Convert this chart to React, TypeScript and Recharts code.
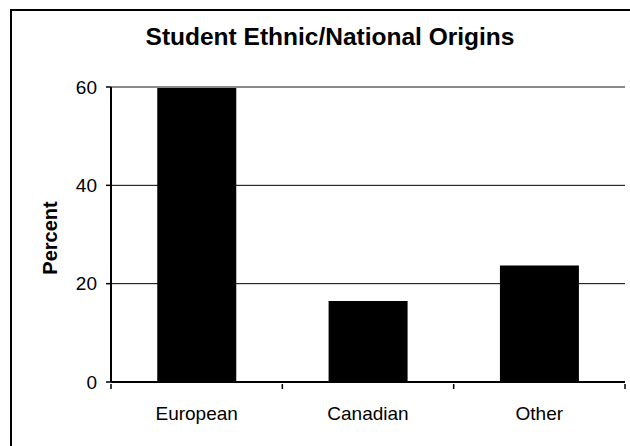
import { Bar, BarChart, CartesianGrid, ReferenceLine, XAxis, YAxis } from "recharts";

const origins = ["European", "Canadian", "Other"];
const percents = [60, 16.5, 23.7];
const percentTicks = [0, 20, 40, 60];

const rows = origins.map((origin, i) => ({ origin, percent: percents[i] }));

const FONT = '"Liberation Sans", Arial, sans-serif';

// category label centred in its band, with tick marks on the band edges
function OriginTick(props: any) {
  const { x, y, payload, index, visibleTicksCount, width } = props;
  const half = payload?.offset || width / visibleTicksCount / 2;
  const last = index === visibleTicksCount - 1;
  return (
    <g>
      <line x1={x - half} x2={x - half} y1={y} y2={y + 5} stroke="#000" strokeWidth={1.5} />
      {last && <line x1={x + half} x2={x + half} y1={y} y2={y + 5} stroke="#000" strokeWidth={1.5} />}
      <text x={x} y={y + 36} textAnchor="middle" fontSize={19} fontFamily={FONT} fill="#000">
        {payload.value}
      </text>
    </g>
  );
}

export default function App() {
  return (
    <div
      style={{
        position: "fixed",
        left: 0,
        top: 0,
        width: 630,
        height: 446,
        overflow: "hidden",
        background: "#fff",
      }}
    >
      <div
        style={{
          position: "absolute",
          left: 10,
          top: 9,
          width: 700,
          height: 500,
          borderLeft: "2px solid #000",
          borderTop: "2px solid #000",
        }}
      />
      <BarChart
        width={630}
        height={446}
        data={rows}
        margin={{ top: 87, right: 5, bottom: 0, left: 0 }}
        barCategoryGap="27%"
      >
        <CartesianGrid vertical={false} stroke="#000" strokeWidth={1} />
        <XAxis
          dataKey="origin"
          interval={0}
          height={64}
          tickSize={0}
          tickLine={false}
          axisLine={{ stroke: "#000", strokeWidth: 2 }}
          tick={<OriginTick />}
        />
        <YAxis
          domain={[0, 60]}
          ticks={percentTicks}
          width={111}
          tickSize={5}
          tickMargin={9}
          tick={{ fill: "#000", fontSize: 19, fontFamily: FONT }}
          tickLine={{ stroke: "#000", strokeWidth: 1.5 }}
          axisLine={{ stroke: "#000", strokeWidth: 2 }}
        />
        <YAxis
          yAxisId="frame"
          orientation="right"
          domain={[0, 60]}
          width={0}
          tick={false}
          tickLine={false}
          axisLine={{ stroke: "#888", strokeWidth: 2 }}
        />
        <Bar dataKey="percent" fill="#000" isAnimationActive={false} />
        <ReferenceLine y={60} stroke="#888" strokeWidth={2} />
      </BarChart>
      <svg
        width={630}
        height={446}
        style={{ position: "absolute", left: 0, top: 0, pointerEvents: "none" }}
      >
        <text x={330} y={45} textAnchor="middle" fontSize={24.5} fontWeight="bold" fontFamily={FONT} fill="#000">
          Student Ethnic/National Origins
        </text>
        <text
          transform="translate(57 238) rotate(-90)"
          textAnchor="middle"
          fontSize={20}
          fontWeight="bold"
          fontFamily={FONT}
          fill="#000"
        >
          Percent
        </text>
      </svg>
    </div>
  );
}
